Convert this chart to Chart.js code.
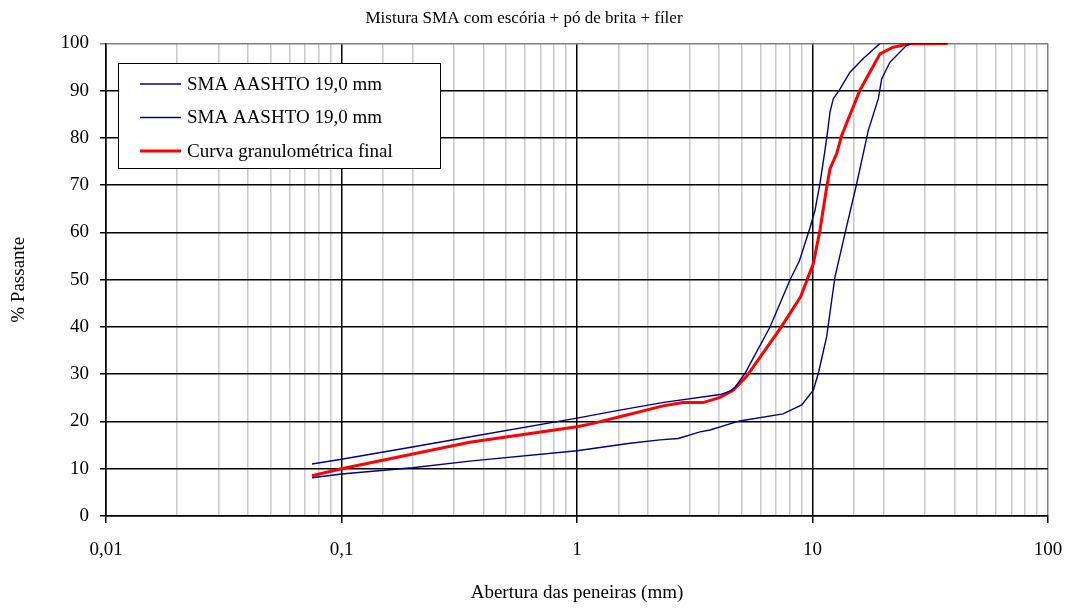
<!DOCTYPE html>
<html>
<head>
<meta charset="utf-8">
<script src="https://cdn.jsdelivr.net/npm/chart.js@4.4.1/dist/chart.umd.min.js"></script>
<style>
  html, body { margin: 0; padding: 0; background: #fff; }
  #wrap { width: 1072px; height: 608px; }
</style>
</head>
<body>
<div id="wrap"><canvas id="chart" width="1072" height="608"></canvas></div>
<script>
// Faixa SMA AASHTO 19,0 mm - limite superior (abertura mm, % passante)
const upperSizes = [0.075, 0.1, 0.2, 0.32, 1.0, 1.52, 2.3, 4.05, 4.46, 4.7, 5.17, 6.6, 8.03, 8.8, 9.76, 10.25, 10.76, 11.3, 11.6, 11.87, 12.26, 13.09, 14.43, 16.43, 19.35, 37.5];
const upperPass  = [11.0, 12.0, 14.6, 16.4, 20.7, 22.4, 24.0, 25.7, 26.4, 27.3, 30.2, 40.0, 50.0, 54.0, 61.0, 64.7, 70.4, 77.4, 81.5, 85.5, 88.3, 90.4, 93.9, 96.8, 100, 100];

// Faixa SMA AASHTO 19,0 mm - limite inferior
const lowerSizes = [0.075, 0.1, 0.2, 0.35, 1.0, 1.68, 2.25, 2.69, 3.33, 3.67, 4.6, 4.9, 7.5, 9.0, 10.08, 10.59, 11.49, 12.07, 12.46, 13.74, 15.4, 17.26, 19.03, 19.67, 21.3, 25.1, 26.7, 37.5];
const lowerPass  = [8.1, 8.9, 10.2, 11.6, 13.8, 15.4, 16.1, 16.4, 17.8, 18.2, 19.7, 20.1, 21.6, 23.5, 26.6, 30.2, 38.0, 45.7, 50.6, 59.8, 70.3, 81.6, 88.3, 92.5, 96.0, 99.6, 100, 100];

// Curva granulométrica final
const finalSizes = [0.075, 0.1, 0.35, 1.0, 1.17, 1.52, 2.32, 2.82, 3.43, 4.05, 4.6, 5.26, 7.3, 8.9, 10.08, 10.76, 11.49, 11.87, 12.67, 13.3, 15.9, 19.35, 22.0, 25.9, 37.5];
const finalPass  = [8.5, 10.0, 15.6, 18.9, 19.6, 21.0, 23.3, 24.0, 24.0, 25.1, 26.6, 29.6, 39.7, 46.4, 53.4, 60.5, 69.6, 73.5, 76.7, 80.5, 90.1, 97.8, 99.2, 99.9, 100];

const seriesLabels = ['SMA AASHTO 19,0 mm', 'SMA AASHTO 19,0 mm', 'Curva granulométrica final'];
const xTickLabels = { '-2': '0,01', '-1': '0,1', '0': '1', '1': '10', '2': '100' };

const serif = "'Liberation Serif', 'Times New Roman', serif";

function toPoints(xs, ys) {
    return xs.map((x, i) => ({ x: x, y: ys[i] }));
}

function decadeOf(v) {
    const l = Math.log10(v);
    const r = Math.round(l);
    return Math.abs(l - r) < 1e-6 ? r : null;
}

// legenda dentro da área do gráfico
const boxLegend = {
    id: 'boxLegend',
    afterDraw(chart) {
        const ctx = chart.ctx;
        const x0 = 118.5, y0 = 63.5, w = 322, h = 105;
        ctx.save();
        ctx.fillStyle = '#fff';
        ctx.fillRect(x0, y0, w, h);
        ctx.strokeStyle = '#000';
        ctx.lineWidth = 1;
        ctx.strokeRect(x0, y0, w, h);
        ctx.font = '19px ' + serif;
        ctx.textBaseline = 'middle';
        chart.data.datasets.forEach((ds, i) => {
            const y = 84 + i * 33.5;
            ctx.strokeStyle = ds.borderColor;
            ctx.lineWidth = ds.borderWidth;
            ctx.beginPath();
            ctx.moveTo(140, y);
            ctx.lineTo(181, y);
            ctx.stroke();
            ctx.fillStyle = '#000';
            ctx.fillText(ds.label, 187, y + 1);
        });
        ctx.restore();
    }
};

const ctx = document.getElementById('chart');
new Chart(ctx, {
    type: 'scatter',
    data: {
        datasets: [
            {
                label: seriesLabels[0],
                data: toPoints(upperSizes, upperPass),
                borderColor: '#000080',
                borderWidth: 1.4,
                showLine: true,
                pointRadius: 0,
                tension: 0
            },
            {
                label: seriesLabels[1],
                data: toPoints(lowerSizes, lowerPass),
                borderColor: '#000080',
                borderWidth: 1.4,
                showLine: true,
                pointRadius: 0,
                tension: 0
            },
            {
                label: seriesLabels[2],
                data: toPoints(finalSizes, finalPass),
                borderColor: '#ff0000',
                borderWidth: 3,
                showLine: true,
                pointRadius: 0,
                tension: 0
            }
        ]
    },
    options: {
        responsive: false,
        animation: false,
        layout: { padding: { left: 0, right: 24, top: 0, bottom: 0 } },
        plugins: {
            legend: { display: false },
            tooltip: { enabled: false },
            title: {
                display: true,
                text: 'Mistura SMA com escória + pó de brita + fíler',
                color: '#000',
                font: { family: serif, size: 17, weight: 'normal' },
                padding: { top: 8, bottom: 15 }
            }
        },
        scales: {
            x: {
                type: 'logarithmic',
                min: 0.01,
                max: 100,
                afterFit(scale) {
                    scale.height = 92;
                    scale.paddingRight = 0;
                    scale.paddingLeft = 0;
                },
                border: { color: '#000', width: 1.5 },
                grid: {
                    color(c) {
                        const d = decadeOf(c.tick.value);
                        if (d === 2) return '#808080';
                        return d !== null ? '#000' : '#c8c8c8';
                    },
                    lineWidth: 1.5,
                    tickColor(c) { return decadeOf(c.tick.value) !== null ? '#000' : 'rgba(0,0,0,0)'; },
                    tickLength: 7
                },
                ticks: {
                    autoSkip: false,
                    maxRotation: 0,
                    color: '#000',
                    padding: 16,
                    font: { family: serif, size: 19 },
                    callback(v) {
                        const d = decadeOf(v);
                        return d !== null ? xTickLabels[String(d)] : '';
                    }
                },
                title: {
                    display: true,
                    text: 'Abertura das peneiras (mm)',
                    color: '#000',
                    font: { family: serif, size: 19 },
                    padding: { top: 4, bottom: 4 }
                }
            },
            y: {
                min: 0,
                max: 100,
                afterFit(scale) { scale.width = 106; },
                border: { color: '#000', width: 1.5 },
                grid: {
                    color(c) { return c.tick.value === 100 ? '#808080' : '#000'; },
                    lineWidth: 1.5,
                    tickLength: 6
                },
                ticks: {
                    stepSize: 10,
                    color: '#000',
                    padding: 11,
                    font: { family: serif, size: 19 }
                },
                title: {
                    display: true,
                    text: '% Passante',
                    color: '#000',
                    font: { family: serif, size: 19 },
                    padding: { top: 8, bottom: 0 }
                }
            }
        }
    },
    plugins: [boxLegend]
});
</script>
</body>
</html>
